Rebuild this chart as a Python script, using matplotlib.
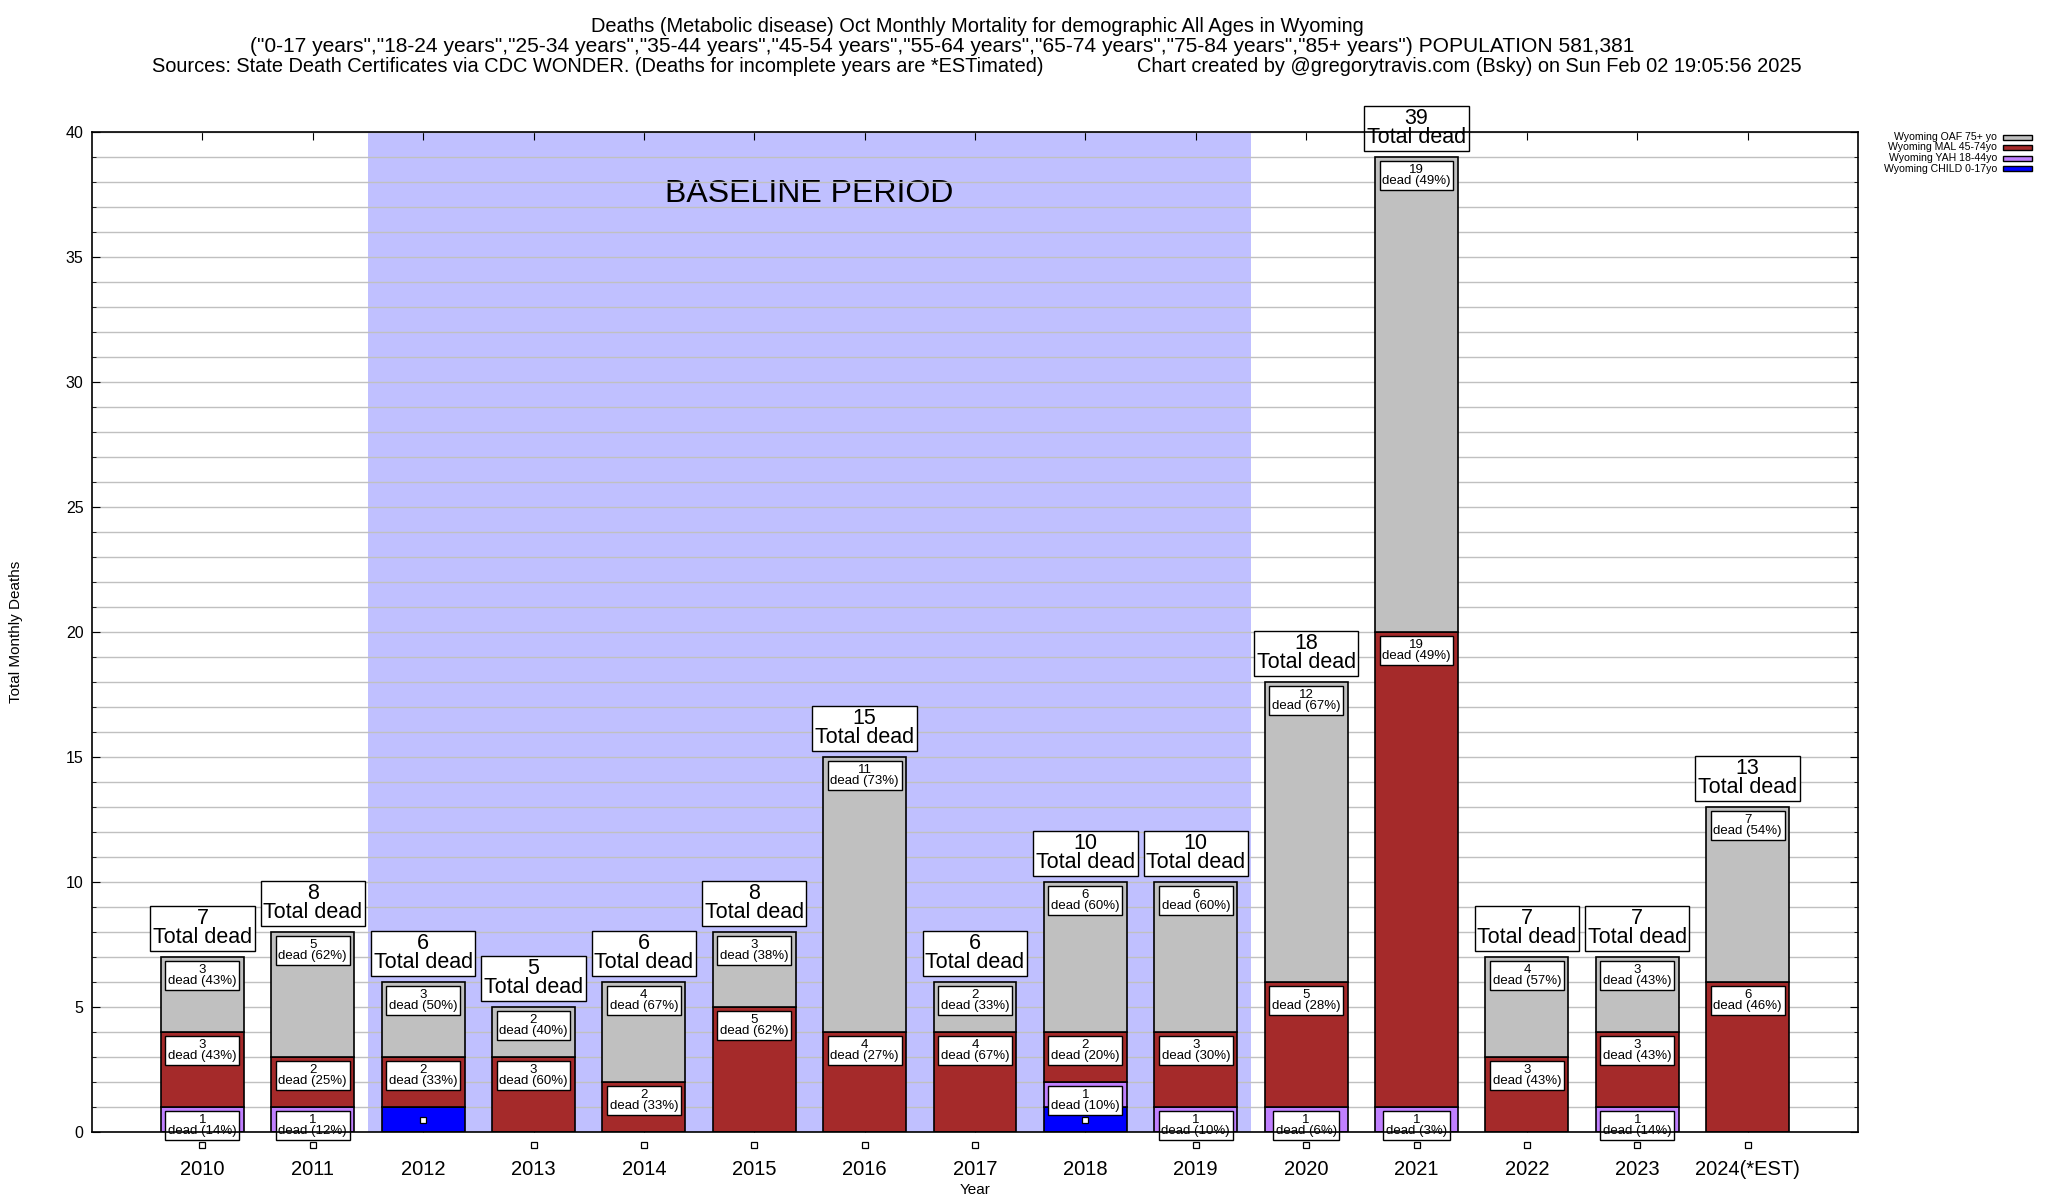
### importing the libraries
import matplotlib
matplotlib.use('Agg')
import matplotlib.pyplot as plt
from matplotlib.patches import Rectangle
from matplotlib.ticker import MultipleLocator

plt.rcParams['font.family'] = ['Liberation Sans', 'DejaVu Sans']

### data
years = ['2010', '2011', '2012', '2013', '2014', '2015', '2016', '2017',
         '2018', '2019', '2020', '2021', '2022', '2023', '2024(*EST)']
child = [0, 0, 1, 0, 0, 0, 0, 0, 1, 0, 0, 0, 0, 0, 0]
yah = [1, 1, 0, 0, 0, 0, 0, 0, 1, 1, 1, 1, 0, 1, 0]
mal = [3, 2, 2, 3, 2, 5, 4, 4, 2, 3, 5, 19, 3, 3, 6]
oaf = [3, 5, 3, 2, 4, 3, 11, 2, 6, 6, 12, 19, 4, 3, 7]

series_names = ['Wyoming CHILD 0-17yo', 'Wyoming YAH 18-44yo',
                'Wyoming MAL 45-74yo', 'Wyoming OAF 75+ yo']
series_colors = ['#0000ff', '#c080ff', '#a52a2a', '#c0c0c0']
baseline_start, baseline_end = '2012', '2019'

title1 = 'Deaths (Metabolic disease) Oct Monthly Mortality for demographic All Ages in Wyoming'
title2 = '("0-17 years","18-24 years","25-34 years","35-44 years","45-54 years","55-64 years","65-74 years","75-84 years","85+ years") POPULATION 581,381'
title3 = ('Sources: State Death Certificates via CDC WONDER. (Deaths for incomplete years are *ESTimated)'
          '                 Chart created by @gregorytravis.com (Bsky) on Sun Feb 02 19:05:56 2025')

### figure and axes
fig = plt.figure(figsize=(20.48, 12), dpi=100)
ax = fig.add_axes([92 / 2048, 1 - 1132 / 1200, (1858 - 92) / 2048, (1132 - 132) / 1200])

x = list(range(len(years)))
ax.set_xlim(-1, len(years))
ax.set_ylim(0, 40)

# baseline shading
b0 = years.index(baseline_start) - 0.5
b1 = years.index(baseline_end) + 0.5
ax.axvspan(b0, b1, color='#c0c0ff', zorder=0.1, lw=0)
ax.text((b0 + b1) / 2, 37.5, 'BASELINE PERIOD', ha='center', va='center',
        fontsize=23, zorder=0.3)

### stacked bars
bottoms = [0] * len(years)
stack = [child, yah, mal, oaf]
totals = [sum(v) for v in zip(*stack)]
for k, vals in enumerate(stack):
    ax.bar(x, vals, width=0.75, bottom=bottoms, color=series_colors[k],
           edgecolor='black', linewidth=1.2, zorder=1)
    for i, v in enumerate(vals):
        top = bottoms[i] + v
        if k == 0:
            # child series: only the little point marker
            ax.plot(x[i], top - 0.5, 's', ms=5, mfc='white', mec='black',
                    mew=0.9, clip_on=False, zorder=6)
        elif v > 0:
            pct = round(v / totals[i] * 100)
            ax.annotate('{}\ndead ({}%)'.format(v, pct), (x[i], top),
                        xytext=(0, -5), textcoords='offset points',
                        ha='center', va='top', fontsize=9.5, linespacing=0.9,
                        annotation_clip=False, zorder=4,
                        bbox=dict(boxstyle='square,pad=0.2', fc='white',
                                  ec='black', lw=1))
    bottoms = [b + v for b, v in zip(bottoms, vals)]

# total labels
for i, t in enumerate(totals):
    ax.annotate('{}\nTotal dead'.format(t), (x[i], t),
                xytext=(0, 6.5), textcoords='offset points',
                ha='center', va='bottom', fontsize=15.5, linespacing=0.86,
                annotation_clip=False, zorder=4,
                bbox=dict(boxstyle='square,pad=0.12', fc='white',
                          ec='black', lw=1))

### axes styling
ax.set_xticks(x)
ax.set_xticklabels(years, fontsize=14.5)
ax.yaxis.set_major_locator(MultipleLocator(5))
ax.yaxis.set_minor_locator(MultipleLocator(1))
ax.tick_params(axis='y', which='major', labelsize=11.5, direction='in',
               length=6, right=True, pad=6)
ax.tick_params(axis='y', which='minor', direction='in', length=3, right=True)
ax.tick_params(axis='x', direction='in', length=6, top=True, pad=20)
ax.grid(axis='y', which='both', color='#c0c0c0', lw=1)
ax.set_axisbelow(True)
for s in ax.spines.values():
    s.set_zorder(10)
    s.set_linewidth(1.2)

ax.set_xlabel('Year', fontsize=11, labelpad=3)
fig.text(16 / 2048, 1 - 632 / 1200, 'Total Monthly Deaths', rotation=90,
         ha='center', va='center', fontsize=11)

### titles
fig.text(0.477, 1 - 27 / 1200, title1, ha='center', va='center', fontsize=14.4)
fig.text(0.460, 1 - 47 / 1200, title2, ha='center', va='center', fontsize=15.1)
fig.text(0.477, 1 - 67 / 1200, title3, ha='center', va='center', fontsize=14.4)

### legend (drawn by hand, gnuplot style: text then swatch)
rows = [137, 147.5, 158, 168.5]
for r, name, col in zip(rows, series_names[::-1], series_colors[::-1]):
    fig.text(1997 / 2048, 1 - r / 1200, name, ha='right', va='center',
             fontsize=7.6)
    fig.patches.append(Rectangle((2003 / 2048, 1 - (r + 2.5) / 1200),
                                 29 / 2048, 5 / 1200, fc=col, ec='black',
                                 lw=1, transform=fig.transFigure, figure=fig))

### saving
fig.savefig('out.png', dpi=100)
